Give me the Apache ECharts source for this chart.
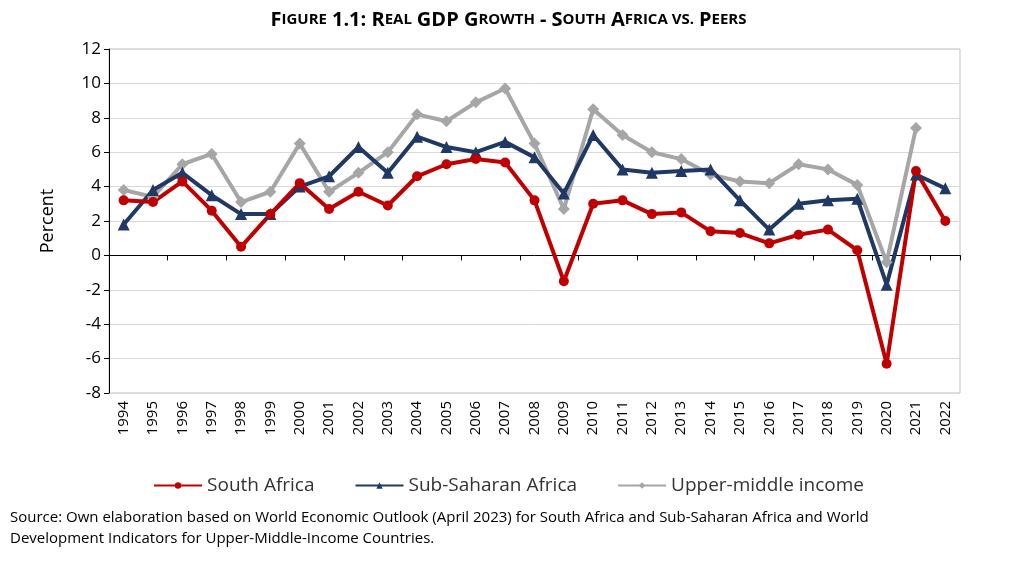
<!DOCTYPE html><html><head><meta charset="utf-8"><script src="https://cdn.jsdelivr.net/npm/echarts@6/dist/echarts.min.js"></script></head><body style="margin:0"><div id="c" style="width:1017px;height:562px"></div><script>
const years=['1994','1995','1996','1997','1998','1999','2000','2001','2002','2003','2004','2005','2006','2007','2008','2009','2010','2011','2012','2013','2014','2015','2016','2017','2018','2019','2020','2021','2022'];
const southAfrica=[3.2,3.1,4.3,2.6,0.5,2.4,4.2,2.7,3.7,2.9,4.6,5.3,5.6,5.4,3.2,-1.5,3.0,3.2,2.4,2.5,1.4,1.3,0.7,1.2,1.5,0.3,-6.3,4.9,2.0];
const subSaharan=[1.8,3.8,4.8,3.5,2.4,2.4,4.0,4.6,6.3,4.8,6.9,6.3,6.0,6.6,5.7,3.6,7.0,5.0,4.8,4.9,5.0,3.2,1.5,3.0,3.2,3.3,-1.7,4.7,3.9];
const upperMiddle=[3.8,3.4,5.3,5.9,3.1,3.7,6.5,3.7,4.8,6.0,8.2,7.8,8.9,9.7,6.5,2.7,8.5,7.0,6.0,5.6,4.7,4.3,4.2,5.3,5.0,4.1,-0.4,7.4,null];
const F='Open Sans';
const ch=echarts.init(document.getElementById('c'));
ch.setOption({
title:{left:'center',top:5,text:'{b|F}{s|IGURE} {b|1.1: R}{s|EAL} {b|GDP G}{s|ROWTH} {b|- S}{s|OUTH} {b|A}{s|FRICA VS.} {b|P}{s|EERS}',
textStyle:{rich:{b:{fontFamily:F,fontWeight:'bold',fontSize:20,color:'#000'},s:{fontFamily:F,fontWeight:'bold',fontSize:15,color:'#000'}}}},
grid:{left:109,right:57,top:49,bottom:169,show:true,borderColor:'#bfbfbf',borderWidth:1},
legend:{bottom:62,left:'center',itemGap:40,itemWidth:48,itemHeight:8,textStyle:{fontFamily:F,fontSize:19,color:'#333'},
data:['South Africa','Sub-Saharan Africa','Upper-middle income']},
xAxis:[{type:'category',data:years,axisLine:{onZero:true,lineStyle:{color:'#000'}},axisTick:{show:true,length:5,lineStyle:{color:'#000'}},axisLabel:{show:false}},
{type:'category',data:years,position:'bottom',axisLine:{show:false},axisTick:{show:false},axisLabel:{rotate:90,fontFamily:F,fontSize:15,color:'#000',margin:8}}],
yAxis:{type:'value',min:-8,max:12,interval:2,name:'Percent',nameLocation:'middle',nameGap:52,nameTextStyle:{fontFamily:F,fontSize:18,color:'#000'},
axisLine:{show:true,lineStyle:{color:'#000'}},axisTick:{show:true,lineStyle:{color:'#000'}},axisLabel:{fontFamily:F,fontSize:17,color:'#000'},splitLine:{lineStyle:{color:'#d9d9d9'}}},
series:[
{name:'Upper-middle income',type:'line',data:upperMiddle,color:'#a6a6a6',lineStyle:{width:4},symbol:'diamond',symbolSize:12},
{name:'Sub-Saharan Africa',type:'line',data:subSaharan,color:'#1f3864',lineStyle:{width:4},symbol:'triangle',symbolSize:12},
{name:'South Africa',type:'line',data:southAfrica,color:'#c00000',lineStyle:{width:4},symbol:'circle',symbolSize:10}
],
graphic:[{type:'text',left:10,top:507,style:{text:'Source: Own elaboration based on World Economic Outlook (April 2023) for South Africa and Sub-Saharan Africa and World\nDevelopment Indicators for Upper-Middle-Income Countries.',font:'15px "Open Sans"',fill:'#000',lineHeight:21}}]
});
</script></body></html>
